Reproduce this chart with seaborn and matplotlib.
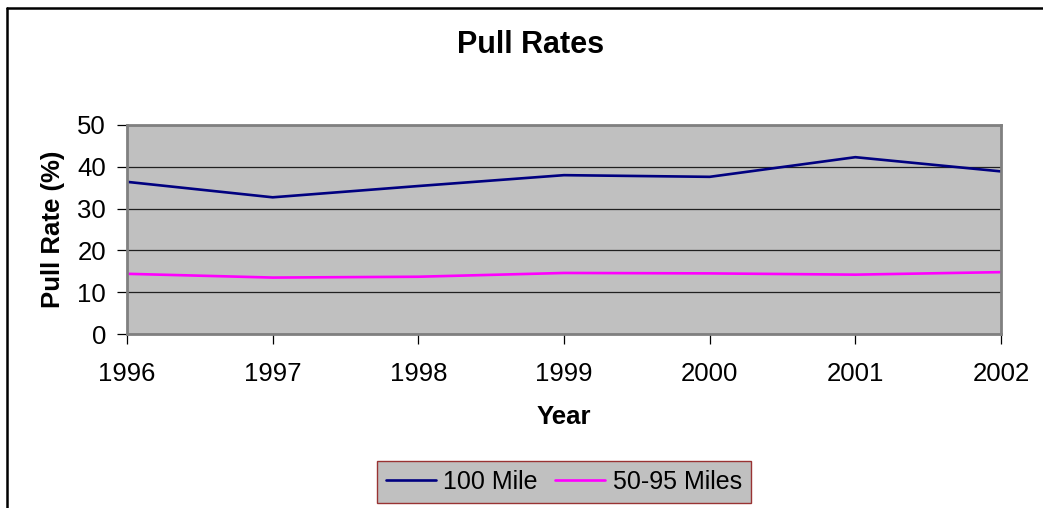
import matplotlib
matplotlib.use("Agg")
import matplotlib.pyplot as plt
import seaborn as sns
import pandas as pd

years = [1996, 1997, 1998, 1999, 2000, 2001, 2002]
mile_100 = [36.4, 32.7, 35.4, 38.0, 37.6, 42.3, 38.9]
miles_50_95 = [14.4, 13.5, 13.7, 14.6, 14.5, 14.2, 14.8]
series_names = ["100 Mile", "50-95 Miles"]
series_colors = ["#000080", "#FF00FF"]

df = pd.DataFrame({"Year": years, series_names[0]: mile_100, series_names[1]: miles_50_95})
long_df = df.melt(id_vars="Year", var_name="Series", value_name="Pull Rate")

sns.set_style("white")
plt.rcParams["font.family"] = ["Liberation Sans", "DejaVu Sans"]
plt.rcParams["text.color"] = "black"
plt.rcParams["axes.labelcolor"] = "black"
plt.rcParams["xtick.color"] = "black"
plt.rcParams["ytick.color"] = "black"

fig = plt.figure(figsize=(10.43, 5.08), dpi=100)
ax = fig.add_axes([127 / 1043, 1 - 334 / 508, (1001 - 127) / 1043, (334 - 125) / 508])
ax.set_facecolor("#C0C0C0")

sns.lineplot(data=long_df, x="Year", y="Pull Rate", hue="Series",
             palette=dict(zip(series_names, series_colors)), linewidth=1.9, ax=ax)

ax.set_xlim(years[0], years[-1])
ax.set_ylim(0, 50)
ax.set_xticks(years)
ax.set_yticks(range(0, 51, 10))
ax.yaxis.grid(True, color="#202020", linewidth=0.9)
ax.set_axisbelow(True)
for s in ax.spines.values():
    s.set_color("#808080")
    s.set_linewidth(2)
ax.tick_params(axis="both", direction="out", length=7, width=0.9, color="black",
               labelsize=18.5, bottom=True, left=True)
ax.tick_params(axis="x", pad=13.5)
ax.tick_params(axis="y", pad=8)

ax.set_xlabel("Year", fontsize=18.5, fontweight="bold", labelpad=13)
ax.set_ylabel("Pull Rate (%)", fontsize=18.5, fontweight="bold", labelpad=9)

fig.text(531 / 1043, 1 - 45 / 508, "Pull Rates", fontsize=22, fontweight="bold",
         ha="center", va="center")

handles, labels = ax.get_legend_handles_labels()
ax.legend_.remove()
leg = fig.legend(handles, labels, loc="center", bbox_to_anchor=(564 / 1043, 1 - 482 / 508),
                 ncol=2, fontsize=18, frameon=True, fancybox=False, handlelength=2.0,
                 handletextpad=0.3, columnspacing=0.7, borderpad=0.35, borderaxespad=0)
leg.get_frame().set_facecolor("#C0C0C0")
leg.get_frame().set_edgecolor("#993333")
leg.get_frame().set_linewidth(1.0)
leg.get_frame().set_alpha(1)

# outer chart-area border (left and top edges visible)
fig.add_artist(plt.Line2D([7 / 1043, 7 / 1043], [0, 1 - 8 / 508], color="black", linewidth=1.8))
fig.add_artist(plt.Line2D([7 / 1043, 1], [1 - 8 / 508, 1 - 8 / 508], color="black", linewidth=1.8))

fig.savefig("out.png", dpi=100)
